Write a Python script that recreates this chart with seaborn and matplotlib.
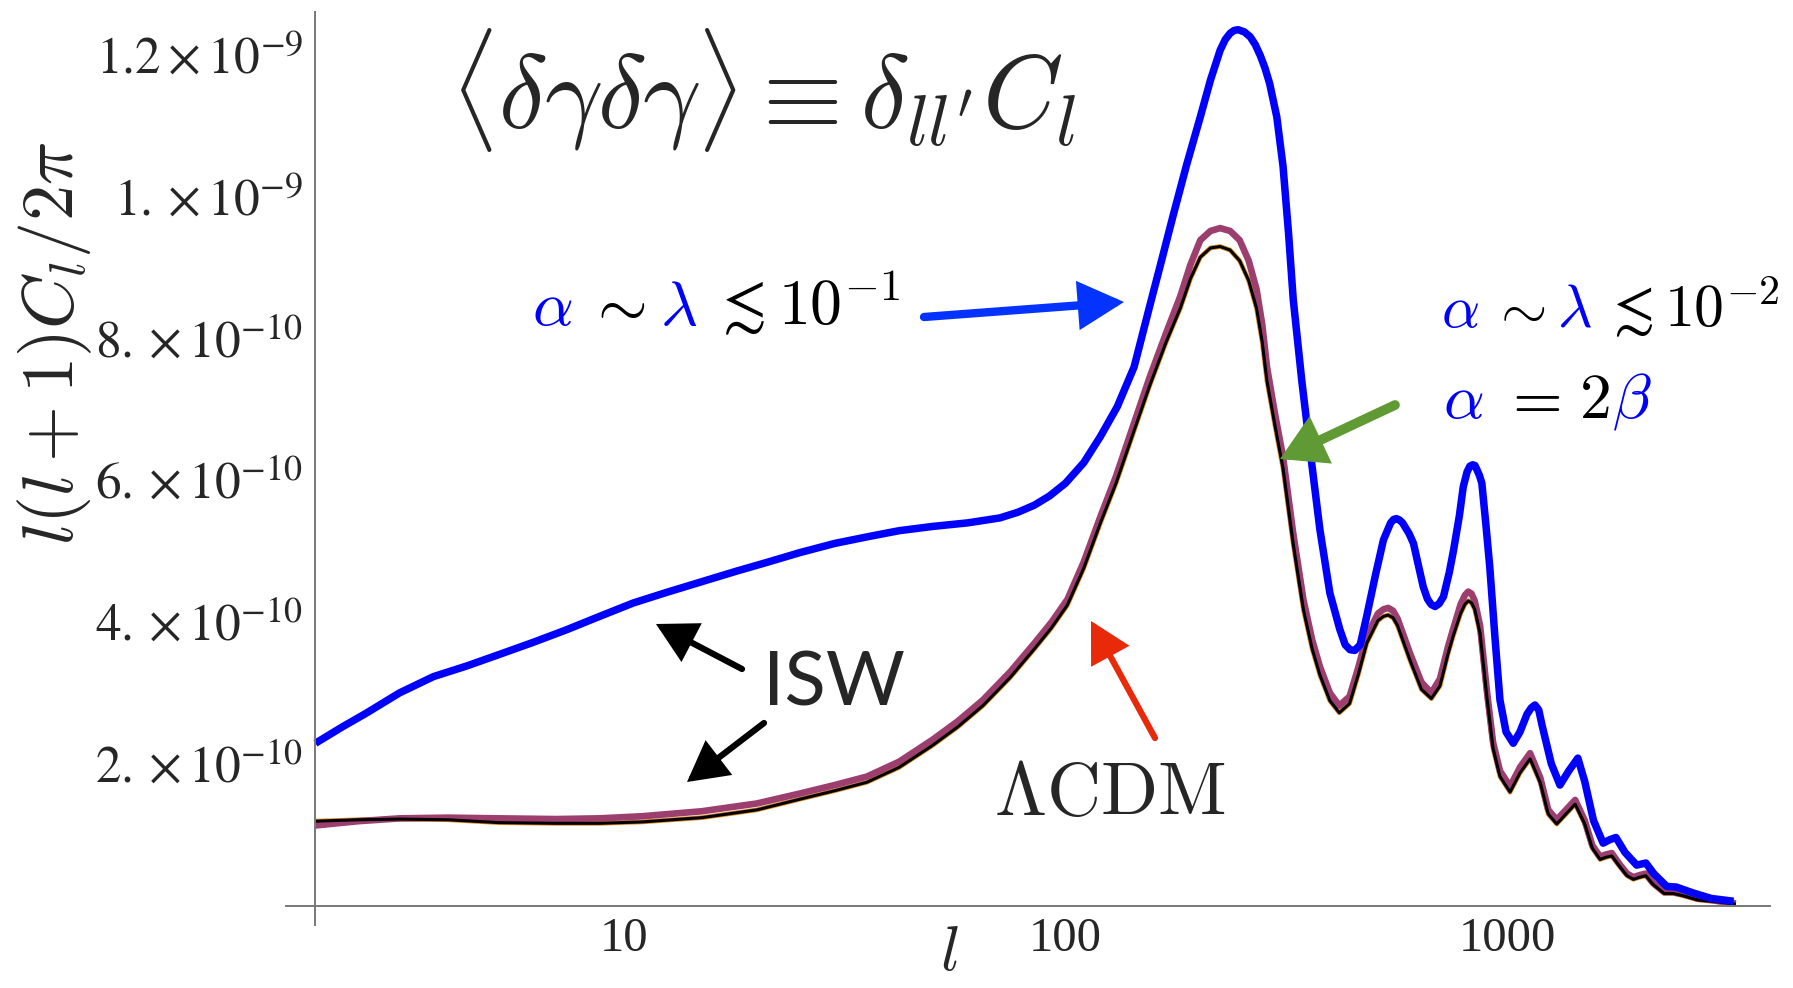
import numpy as np
import pandas as pd
import matplotlib
matplotlib.use("Agg")
import matplotlib.pyplot as plt
import seaborn as sns
from matplotlib.ticker import FixedLocator, NullFormatter
from matplotlib.offsetbox import TextArea, HPacker, AnnotationBbox

# ---------------- data (values in units of 1e-10) ----------------
l_blue = [2, 2.3, 2.6, 3.1, 3.7, 4.4, 5.2, 6.2, 7.4, 8.8, 10.5, 12.5, 15, 18, 21, 25, 30, 36, 42,
          50, 60, 71, 78, 85, 92, 100, 110, 120, 131, 143, 155, 165, 175, 188, 202, 213, 224,
          230, 236, 241, 246, 254, 262, 269, 276, 283, 290, 301, 311, 320, 328, 343, 358, 377,
          397, 418, 430, 441, 452, 465, 481, 503, 525, 545, 554, 562, 571, 580, 600, 614, 630,
          646, 660, 673, 687, 702, 718, 740, 757, 780, 796, 812, 824, 836, 846, 855, 866, 877,
          895, 914, 940, 964, 995, 1033, 1070, 1110, 1135, 1157, 1180, 1200, 1260, 1318, 1380,
          1447, 1500, 1570, 1651, 1710, 1765, 1850, 1967, 2063, 2150, 2300, 2420, 2632, 2900,
          3260]
v_blue = [2.29, 2.52, 2.71, 3.00, 3.23, 3.38, 3.54, 3.71, 3.89, 4.08, 4.27, 4.42, 4.57, 4.72, 4.84,
          4.98, 5.11, 5.21, 5.29, 5.35, 5.40, 5.47, 5.55, 5.65, 5.78, 5.96, 6.25, 6.62, 7.04, 7.60,
          8.45, 9.10, 9.72, 10.45, 11.13, 11.65, 12.07, 12.22, 12.31, 12.35, 12.36, 12.33, 12.26,
          12.15, 12.00, 11.82, 11.60, 11.13, 10.43, 9.49, 8.55, 7.40, 6.43, 5.30, 4.41, 3.90, 3.68,
          3.61, 3.60, 3.68, 4.08, 4.65, 5.16, 5.40, 5.45, 5.46, 5.44, 5.40, 5.25, 5.11, 4.80, 4.50,
          4.33, 4.25, 4.22, 4.26, 4.36, 4.70, 5.02, 5.50, 5.91, 6.12, 6.20, 6.22, 6.21, 6.15, 6.07,
          5.96, 5.40, 4.78, 3.75, 2.90, 2.45, 2.29, 2.45, 2.70, 2.79, 2.83, 2.76, 2.55, 2.00, 1.70,
          1.90, 2.08, 1.75, 1.20, 0.88, 0.93, 0.96, 0.75, 0.57, 0.60, 0.45, 0.27, 0.26, 0.18, 0.10,
          0.06]

l_lcdm = [2, 2.5, 3.1, 4, 5.2, 7, 8.8, 11, 15, 20, 25, 30, 35.5, 42, 50, 57, 65, 75, 85, 93, 101,
          110, 120, 130, 143, 155, 169, 182, 192, 202, 213, 224, 236, 248, 260, 271, 279, 286, 298,
          311, 328, 346, 362, 377, 397, 417, 440, 460, 481, 510, 525, 538, 552, 565, 603, 640, 674,
          705, 735, 755, 785, 803, 817, 831, 845, 869, 900, 930, 964, 1016, 1070, 1128, 1190, 1240,
          1296, 1360, 1427, 1500, 1560, 1625, 1675, 1727, 1800, 1870, 1933, 2000, 2063, 2140, 2270,
          2380, 2500, 2700, 2900, 3100, 3300]
v_mauve = [1.13, 1.19, 1.23, 1.24, 1.23, 1.22, 1.23, 1.26, 1.33, 1.44, 1.58, 1.70, 1.82, 2.03, 2.34,
           2.60, 2.90, 3.30, 3.70, 4.00, 4.32, 4.85, 5.49, 6.05, 6.81, 7.45, 8.08, 8.60, 9.05, 9.39,
           9.52, 9.56, 9.52, 9.39, 9.10, 8.69, 8.20, 7.60, 6.95, 6.33, 5.25, 4.31, 3.75, 3.37, 3.00,
           2.82, 2.95, 3.35, 3.80, 4.12, 4.18, 4.20, 4.16, 4.05, 3.56, 3.15, 3.00, 3.20, 3.65, 3.90,
           4.25, 4.38, 4.43, 4.40, 4.30, 3.95, 3.04, 2.30, 1.90, 1.68, 1.95, 2.15, 1.80, 1.35, 1.21,
           1.35, 1.49, 1.20, 0.85, 0.69, 0.72, 0.74, 0.58, 0.45, 0.40, 0.43, 0.45, 0.32, 0.19, 0.19,
           0.16, 0.10, 0.08, 0.05, 0.03]
v_black = [1.19, 1.21, 1.22, 1.21, 1.17, 1.16, 1.16, 1.18, 1.24, 1.35, 1.50, 1.62, 1.74, 1.95, 2.26,
           2.52, 2.82, 3.22, 3.62, 3.92, 4.24, 4.76, 5.40, 5.95, 6.70, 7.33, 7.95, 8.43, 8.85, 9.15,
           9.28, 9.30, 9.25, 9.10, 8.82, 8.42, 7.95, 7.40, 6.78, 6.17, 5.10, 4.17, 3.62, 3.25, 2.89,
           2.72, 2.85, 3.25, 3.70, 4.02, 4.08, 4.10, 4.06, 3.95, 3.46, 3.05, 2.92, 3.10, 3.55, 3.80,
           4.12, 4.25, 4.30, 4.27, 4.18, 3.84, 2.95, 2.22, 1.82, 1.60, 1.87, 2.07, 1.73, 1.29, 1.15,
           1.29, 1.43, 1.15, 0.81, 0.65, 0.68, 0.70, 0.55, 0.42, 0.37, 0.40, 0.42, 0.30, 0.17, 0.17,
           0.14, 0.08, 0.06, 0.04, 0.02]

x_major = [10, 100, 1000]
x_labels = ["10", "100", "1000"]
x_minor = [2, 3, 4, 5, 6, 7, 8, 9, 20, 30, 40, 50, 60, 70, 80, 90,
           200, 300, 400, 500, 600, 700, 800, 900, 2000, 3000]
y_major = [2e-10, 4e-10, 6e-10, 8e-10, 1e-9, 1.2e-9]
y_labels = [r"$2.\times10^{-10}$", r"$4.\times10^{-10}$", r"$6.\times10^{-10}$",
            r"$8.\times10^{-10}$", r"$1.\times10^{-9}$", r"$1.2\times10^{-9}$"]
y_minor = [k * 0.5e-10 for k in range(1, 26) if k % 4 != 0]

# ---------------- style ----------------
sns.set_theme(style="white")
plt.rcParams["font.family"] = ["Liberation Serif", "DejaVu Serif"]
plt.rcParams["mathtext.fontset"] = "stix"

W, H = 1793, 988
fig = plt.figure(figsize=(W / 100, H / 100), dpi=100)
fig.patch.set_facecolor("white")

def F(x, y):
    return (x / W, 1 - y / H)

ax = fig.add_axes([286 / W, 1 - 925 / H, (1770 - 286) / W, (925 - 12) / H])
ax.set_facecolor("white")
ax.set_xscale("log")

df_blue = pd.DataFrame({"l": l_blue, "v": np.array(v_blue) * 1e-10})
df_lcdm = pd.DataFrame({"l": l_lcdm, "mauve": np.array(v_mauve) * 1e-10,
                        "black": np.array(v_black) * 1e-10})

sns.lineplot(data=df_lcdm, x="l", y="black", ax=ax, color="#e08a1e", lw=3.4,
             sort=False, estimator=None, legend=False)
sns.lineplot(data=df_lcdm, x="l", y="mauve", ax=ax, color="#9c3f6f", lw=4.8,
             sort=False, estimator=None, legend=False)
sns.lineplot(data=df_lcdm, x="l", y="black", ax=ax, color="black", lw=2.2,
             sort=False, estimator=None, legend=False)
sns.lineplot(data=df_blue, x="l", y="v", ax=ax, color="#0000ff", lw=5.4,
             sort=False, estimator=None, legend=False)
for line in ax.lines:
    line.set_solid_joinstyle("round")
    line.set_solid_capstyle("butt")

ax.set_xlim(10 ** (1 + (286 - 624) / 441.5), 10 ** (1 + (1770 - 624) / 441.5))
ax.set_ylim(-0.275e-10, 12.61e-10)

for s in ["top", "right"]:
    ax.spines[s].set_visible(False)
ax.spines["left"].set_position(("data", 2))
ax.spines["bottom"].set_position(("data", 0))
for s in ["left", "bottom"]:
    ax.spines[s].set_color("#777777")
    ax.spines[s].set_linewidth(1.4)

ax.xaxis.set_major_locator(FixedLocator(x_major))
ax.xaxis.set_minor_locator(FixedLocator(x_minor))
ax.xaxis.set_minor_formatter(NullFormatter())
ax.set_xticklabels(x_labels)
ax.yaxis.set_major_locator(FixedLocator(y_major))
ax.yaxis.set_minor_locator(FixedLocator(y_minor))
ax.set_yticklabels(y_labels)
ax.tick_params(which="both", direction="in", color="#444444", width=1.2)
ax.tick_params(which="major", length=10.5)
ax.tick_params(which="minor", length=6)
ax.tick_params(axis="x", which="major", labelsize=35, pad=8)
ax.tick_params(axis="y", which="major", labelsize=37, pad=9)
ax.set_xlabel("")
ax.set_ylabel("")
ax.grid(False)

# ---------------- text ----------------
CM = dict(math_fontfamily="cm")
fig.text(*F(55, 343), r"$l(l+1)C_l/2\pi$", rotation=90, fontsize=52,
         ha="center", va="center", **CM)
fig.text(*F(949, 984), r"$l$", fontsize=46, ha="center", va="bottom", **CM)
fig.text(*F(450, 90), r"$\langle\delta\gamma\delta\gamma\rangle\equiv\delta_{ll'}C_l$",
         fontsize=74, ha="left", va="center", **CM)

BLUE = "#0000ff"
def colored(pieces, xy, fs, sep):
    kids = []
    for p in pieces:
        if isinstance(p, list):
            sub = [TextArea(s, textprops=dict(color=c, fontsize=fs, **CM)) for s, c in p]
            kids.append(HPacker(children=sub, align="baseline", pad=0, sep=2))
        else:
            s, c = p
            kids.append(TextArea(s, textprops=dict(color=c, fontsize=fs, **CM)))
    box = HPacker(children=kids, align="baseline", pad=0, sep=sep)
    ab = AnnotationBbox(box, F(*xy), xycoords="figure fraction", box_alignment=(0, 0.5),
                        frameon=False, pad=0)
    fig.add_artist(ab)

colored([(r"$\alpha$", BLUE), (r"$\sim$", "black"), (r"$\lambda$", BLUE),
         (r"$\lesssim$", "black"), (r"$10^{-1}$", "black")], (532, 309), 46, 10)
colored([(r"$\alpha$", BLUE), (r"$\sim$", "black"), (r"$\lambda$", BLUE),
         (r"$\lesssim$", "black"), (r"$10^{-2}$", "black")], (1441, 312), 43, 8)
colored([(r"$\alpha$", BLUE), (r"$=$", "black"),
         [(r"$2$", "black"), (r"$\beta$", BLUE)]], (1443, 402), 46, 13)

fig.text(*F(834, 684), "ISW", fontsize=55, family=["Lato", "DejaVu Sans"],
         ha="center", va="center")
fig.text(*F(1110, 797), r"$\Lambda\mathrm{CDM}$", fontsize=54, ha="center", va="center", **CM)

def arrow(tail, tip, color, lw, hl, hw, ms=40):
    fig.add_artist(matplotlib.patches.FancyArrowPatch(
        F(*tail), F(*tip), transform=fig.transFigure,
        arrowstyle=f"-|>,head_length={hl},head_width={hw}", mutation_scale=ms,
        color=color, lw=lw, shrinkA=0, shrinkB=0, joinstyle="miter"))

arrow((924, 317), (1124, 302), "#0433ff", 6, 0.6, 0.32)
arrow((1395, 405), (1280, 459), "#5f9a35", 7, 0.55, 0.32)
arrow((742, 669), (656, 624), "black", 4.5, 0.55, 0.3)
arrow((764, 723), (687, 782), "black", 4.5, 0.55, 0.3)
arrow((1155, 738), (1091, 621), "#e8290a", 4.5, 0.55, 0.3)

fig.savefig("out.png", dpi=100, facecolor="white")
